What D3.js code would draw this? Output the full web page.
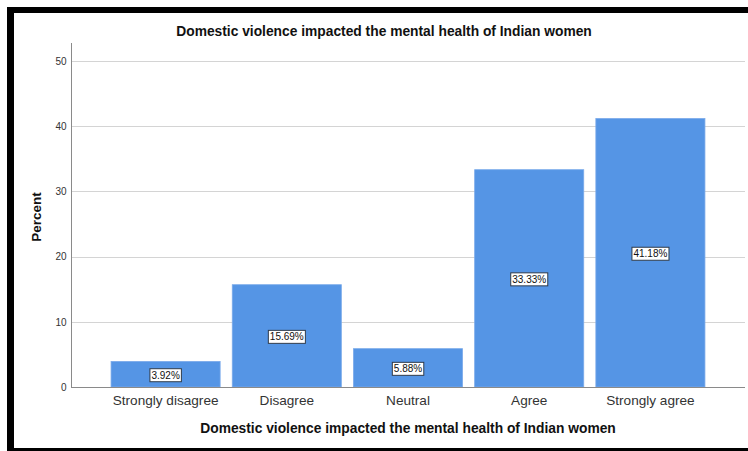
<!DOCTYPE html>
<html><head><meta charset="utf-8">
<script src="https://cdn.jsdelivr.net/npm/d3@7"></script>
<style>body{margin:0;background:#fff}svg{display:block;font-family:Arial,"Liberation Sans",sans-serif}</style>
</head><body><svg id="c" width="748" height="451"></svg>
<script>
const categories = ["Strongly disagree","Disagree","Neutral","Agree","Strongly agree"];
const percents = [3.92, 15.69, 5.88, 33.33, 41.18];
const yTicks = [0,10,20,30,40,50];
const title = "Domestic violence impacted the mental health of Indian women";
const xTitle = "Domestic violence impacted the mental health of Indian women";
const yTitle = "Percent";

(function(){
const svg = d3.select("#c");
// frame
svg.append("rect").attr("x",7).attr("y",7).attr("width",741).attr("height",6).attr("fill","#000");
svg.append("rect").attr("x",7).attr("y",7).attr("width",7).attr("height",444).attr("fill","#000");
svg.append("rect").attr("x",7).attr("y",448).attr("width",741).attr("height",3).attr("fill","#000");

const x = d3.scaleBand().domain(categories).range([105,711]).paddingInner(0.1).paddingOuter(0.05);
const y = d3.scaleLinear().domain([0,50]).range([387,61]);
const pLeft = 71, pRight = 745, pTop = 43;

// gridlines
svg.append("g").selectAll("line").data(yTicks.filter(d=>d>0)).join("line")
  .attr("x1",pLeft+1).attr("x2",pRight).attr("y1",d=>Math.round(y(d))+0.5).attr("y2",d=>Math.round(y(d))+0.5)
  .attr("stroke","#d4d4d4").attr("stroke-width",1);

// bars
svg.append("g").selectAll("rect").data(percents).join("rect")
  .attr("x",(d,i)=>x(categories[i])).attr("width",x.bandwidth())
  .attr("y",d=>y(d)).attr("height",d=>y(0)-y(d))
  .attr("fill","#5595e5").attr("stroke","#7aaaea").attr("stroke-width",0.8);

// axes
const yAxis = d3.axisLeft(y).tickValues(yTicks).tickSize(0).tickPadding(5);
const gy = svg.append("g").attr("transform",`translate(${pLeft+0.5},0)`).call(yAxis);
gy.select(".domain").remove();
gy.selectAll("text").attr("font-size",10).attr("fill","#333").attr("font-family","Arial, 'Liberation Sans', sans-serif");
svg.append("line").attr("x1",pLeft+0.5).attr("x2",pLeft+0.5).attr("y1",pTop).attr("y2",387.5).attr("stroke","#8a8a8a");

const xAxis = d3.axisBottom(x).tickSize(0).tickPadding(8);
const gx = svg.append("g").attr("transform",`translate(0,387.5)`).call(xAxis);
gx.select(".domain").remove();
gx.selectAll("text").attr("font-size",13.6).attr("fill","#333").attr("font-family","Arial, 'Liberation Sans', sans-serif");
svg.append("line").attr("x1",pLeft).attr("x2",pRight).attr("y1",387.5).attr("y2",387.5).attr("stroke","#8a8a8a");

// value labels
const lab = svg.append("g").selectAll("g").data(percents).join("g")
  .attr("transform",(d,i)=>`translate(${x(categories[i])+x.bandwidth()/2},${(y(d)+y(0))/2+1})`);
lab.append("text").text(d=>d.toFixed(2)+"%").attr("text-anchor","middle").attr("dy","0.35em")
  .attr("font-size",10).attr("fill","#111");
lab.each(function(){
  const g = d3.select(this); const b = g.select("text").node().getBBox();
  g.insert("rect","text").attr("x",b.x-1.5).attr("y",b.y-1).attr("width",b.width+3).attr("height",b.height+2)
    .attr("fill","#fff").attr("stroke","#2f3b4a").attr("stroke-width",1);
});

// titles
svg.append("text").attr("x",384).attr("y",36).attr("text-anchor","middle").attr("font-size",13.8)
  .attr("font-weight","bold").attr("fill","#111").text(title);
svg.append("text").attr("x",408).attr("y",433).attr("text-anchor","middle").attr("font-size",13.8)
  .attr("font-weight","bold").attr("fill","#111").text(xTitle);
svg.append("text").attr("transform","translate(41,217) rotate(-90)").attr("text-anchor","middle").attr("font-size",13.5)
  .attr("font-weight","bold").attr("fill","#111").text(yTitle);
})();
</script></body></html>
